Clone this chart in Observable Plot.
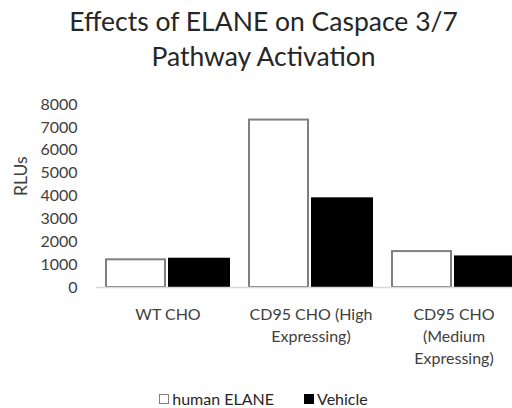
<!DOCTYPE html>
<html>
<head>
<meta charset="utf-8">
<script src="https://cdn.jsdelivr.net/npm/d3@7"></script>
<script src="https://cdn.jsdelivr.net/npm/@observablehq/plot@0.6"></script>
<style>
  html, body { margin: 0; padding: 0; background: #fff; }
  #wrap { position: relative; width: 512px; height: 408px; overflow: hidden; font-family: Lato, "Open Sans", sans-serif; }
  #title { position: absolute; left: 0; top: 4px; width: 527px; text-align: center; font-size: 26.5px; line-height: 35px; color: #262626; }
  #plot { position: absolute; left: 0; top: 85px; }
  #plot svg { max-width: none !important; }
  #legend { position: absolute; left: 0; top: 389px; width: 527px; display: flex; justify-content: center; align-items: center; font-size: 16px; line-height: 20px; color: #262626; }
  .item { display: flex; align-items: center; margin: 0 15px; }
  .sw { width: 10px; height: 10px; box-sizing: border-box; margin-right: 3px; }
</style>
</head>
<body>
<div id="wrap">
  <div id="title">Effects of ELANE on Caspace 3/7<br>Pathway Activation</div>
  <div id="plot"></div>
  <div id="legend"></div>
</div>
<script>
const categories = ["WT CHO", "CD95 CHO (High Expressing)", "CD95 CHO (Medium Expressing)"];
const categoryLabels = ["WT CHO", "CD95 CHO (High\nExpressing)", "CD95 CHO\n(Medium\nExpressing)"];
const seriesNames = ["human ELANE", "Vehicle"];
const humanElane = [1210, 7320, 1570];
const vehicle = [1280, 3920, 1380];
const yTicks = [0, 1000, 2000, 3000, 4000, 5000, 6000, 7000, 8000];
const yTitle = "RLUs";

const humanRows = categories.map((c, i) => ({category: c, series: seriesNames[0], value: humanElane[i]}));
const vehicleRows = categories.map((c, i) => ({category: c, series: seriesNames[1], value: vehicle[i]}));

const chart = Plot.plot({
  width: 525,
  height: 290,
  marginTop: 19,
  marginBottom: 88,
  marginLeft: 96,
  marginRight: 0,
  style: {fontFamily: "Lato, 'Open Sans', sans-serif", fontSize: "16px", color: "#404040", background: "#fff", maxWidth: "none"},
  x: {domain: categories, paddingInner: 0.126, paddingOuter: 0.063, label: null},
  y: {domain: [0, 8000], label: null},
  marks: [
    Plot.barY(humanRows, {x: "category", y: "value", fill: "white", stroke: "#7f7f7f", strokeWidth: 2, insetLeft: 1, insetRight: 65}),
    Plot.barY(vehicleRows, {x: "category", y: "value", fill: "black", insetLeft: 63}),
    Plot.ruleY([0], {stroke: "#d9d9d9", strokeWidth: 1.5}),
    Plot.axisY({ticks: yTicks, tickSize: 0, tickPadding: 19, tickFormat: d => String(d), label: null, fontSize: 16}),
    Plot.text([yTitle], {frameAnchor: "left", rotate: -90, dx: -75, fontSize: 17.5, fill: "#404040"}),
    Plot.axisX({tickSize: 0, tickPadding: 17, lineHeight: 1.38, fontSize: 16, tickFormat: d => categoryLabels[categories.indexOf(d)]})
  ]
});
chart.style.maxWidth = "none";
document.getElementById("plot").appendChild(chart);

const legend = document.getElementById("legend");
const swatchStyles = [
  {background: "#fff", border: "1px solid #7f7f7f"},
  {background: "#000", border: "1px solid #000"}
];
seriesNames.forEach((name, i) => {
  const item = document.createElement("div");
  item.className = "item";
  const sw = document.createElement("span");
  sw.className = "sw";
  Object.assign(sw.style, swatchStyles[i]);
  const label = document.createElement("span");
  label.textContent = name;
  item.appendChild(sw);
  item.appendChild(label);
  legend.appendChild(item);
});
</script>
</body>
</html>
